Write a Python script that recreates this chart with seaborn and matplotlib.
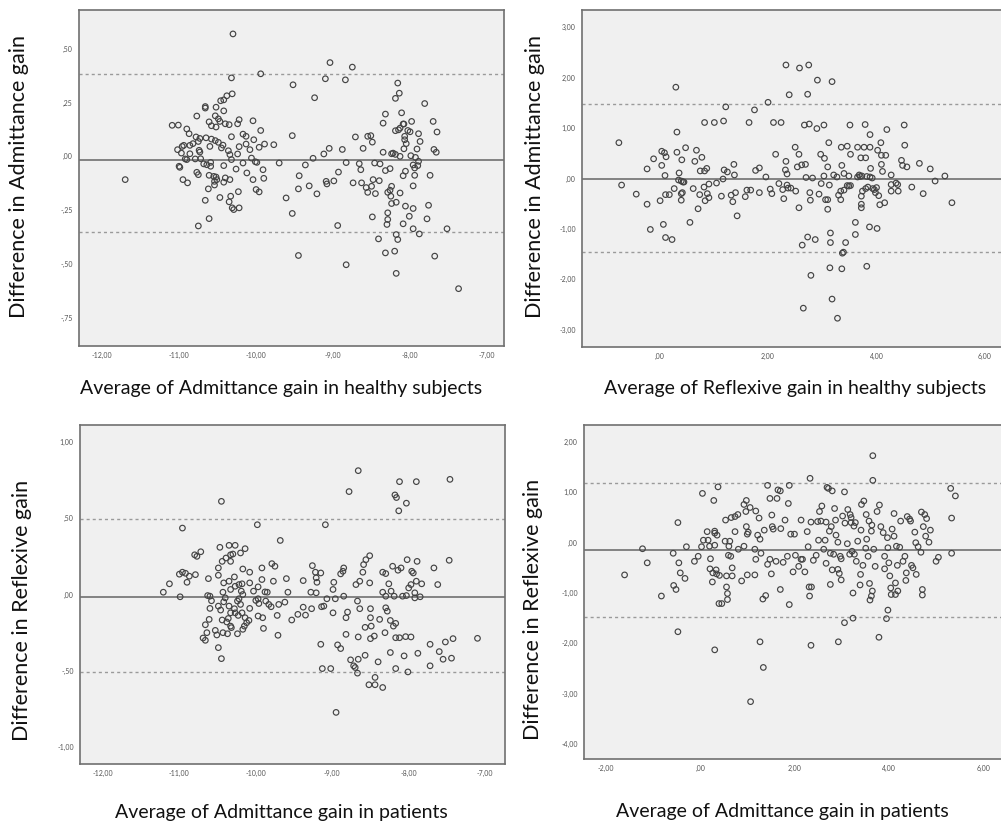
import matplotlib
matplotlib.use("Agg")
import matplotlib.pyplot as plt
import seaborn as sns

sns.set_style("white")
plt.rcParams['font.family'] = ['Lato', 'DejaVu Sans']

# ---- panel 1: admittance gain, healthy subjects ----
tl_x = [-11.70, -10.30, -9.94, -10.32, -9.04, -8.75, -9.10, -8.84, -9.52, -9.24,
        -8.16, -8.14, -8.19, -7.81, -10.31, -10.38, -10.42, -10.46, -10.66, -10.66,
        -10.52, -10.42, -10.77, -10.53, -10.49, -10.61, -10.47, -10.40, -10.35, -10.58,
        -10.52, -10.22, -10.24, -10.04, -9.94, -10.17, -10.13, -10.32, -10.03, -9.89,
        -9.77, -10.13, -10.22, -10.08, -9.96, -11.09, -11.01, -10.90, -10.87, -10.78,
        -10.73, -10.65, -10.58, -10.53, -10.49, -10.43, -10.45, -10.60, -10.75, -10.82,
        -10.86, -10.94, -10.96, -11.02, -10.97, -10.86, -10.74, -10.73, -10.36, -10.34,
        -10.24, -10.06, -10.01, -9.99, -10.92, -10.90, -10.79, -10.72, -10.68, -10.64,
        -10.59, -10.59, -11.00, -10.99, -10.77, -10.75, -10.61, -10.55, -10.52, -10.51,
        -10.54, -10.40, -10.34, -10.42, -10.32, -10.26, -10.17, -10.12, -10.04, -9.91,
        -9.90, -10.95, -10.89, -10.62, -10.54, -10.42, -10.23, -10.00, -9.96, -10.66,
        -10.47, -10.33, -10.35, -10.31, -10.29, -10.22, -10.61, -10.75, -9.61, -9.53,
        -9.70, -9.53, -9.44, -9.45, -9.36, -9.26, -9.31, -9.21, -9.12, -9.05,
        -9.09, -9.08, -8.99, -8.93, -8.88, -8.83, -8.71, -8.61, -8.74, -8.66,
        -8.64, -8.63, -8.57, -8.55, -8.55, -8.51, -8.49, -8.48, -8.50, -8.45,
        -8.46, -8.40, -8.39, -8.35, -8.35, -8.32, -8.32, -8.26, -8.24, -8.22,
        -8.19, -8.29, -8.26, -8.24, -8.25, -8.24, -8.18, -8.13, -8.29, -8.29,
        -8.30, -8.41, -8.49, -8.94, -9.45, -8.83, -8.32, -8.20, -8.18, -8.18,
        -8.16, -8.09, -8.06, -8.01, -7.96, -7.96, -7.88, -7.76, -7.78, -7.68,
        -7.52, -7.37, -7.74, -7.94, -7.96, -7.96, -7.90, -7.93, -7.91, -7.89,
        -7.99, -8.08, -8.07, -8.07, -8.05, -8.06, -8.09, -8.09, -8.08, -8.11,
        -8.15, -8.19, -8.13, -8.03, -7.98, -8.00, -7.89, -7.87, -7.70, -7.65,
        -7.69, -7.66, -8.13, -7.94]
tl_y = [-0.108, 0.568, 0.383, 0.364, 0.435, 0.414, 0.360, 0.355, 0.332, 0.272,
        0.340, 0.293, 0.269, 0.245, 0.290, 0.281, 0.262, 0.258, 0.231, 0.224,
        0.228, 0.211, 0.187, 0.188, 0.174, 0.160, 0.162, 0.151, 0.147, 0.142,
        0.136, 0.170, 0.151, 0.165, 0.120, 0.103, 0.093, 0.091, 0.077, 0.057,
        0.054, 0.057, 0.045, 0.031, 0.042, 0.144, 0.145, 0.127, 0.105, 0.090,
        0.083, 0.086, 0.080, 0.073, 0.065, 0.052, 0.039, 0.046, 0.069, 0.059,
        0.051, 0.051, 0.046, 0.031, 0.015, 0.012, 0.028, 0.020, 0.026, 0.008,
        0.011, -0.008, -0.025, -0.028, -0.012, -0.015, -0.012, -0.011, -0.035, -0.039,
        -0.028, -0.046, -0.046, -0.051, -0.074, -0.085, -0.088, -0.093, -0.096, -0.108,
        -0.116, -0.100, -0.108, -0.043, -0.015, -0.059, -0.031, -0.077, -0.108, -0.062,
        -0.102, -0.108, -0.123, -0.151, -0.133, -0.120, -0.164, -0.154, -0.165, -0.204,
        -0.191, -0.185, -0.211, -0.239, -0.247, -0.239, -0.289, -0.323, -0.193, -0.265,
        -0.031, 0.096, -0.090, -0.151, -0.040, -0.009, -0.137, -0.174, 0.011, 0.037,
        -0.116, -0.128, -0.114, -0.073, 0.032, -0.029, 0.090, 0.037, -0.123, -0.034,
        -0.062, -0.123, -0.145, -0.167, 0.093, 0.096, 0.066, -0.108, -0.139, -0.173,
        -0.031, -0.113, -0.035, 0.019, 0.154, 0.196, -0.066, -0.057, 0.012, 0.015,
        0.009, -0.167, -0.157, -0.139, -0.185, -0.219, -0.213, -0.170, -0.262, -0.293,
        -0.316, -0.383, -0.281, -0.321, -0.460, -0.503, -0.448, -0.440, -0.543, -0.363,
        -0.386, -0.313, -0.231, -0.278, -0.242, -0.336, -0.360, -0.227, -0.290, -0.463,
        -0.336, -0.614, -0.088, -0.088, -0.137, -0.040, -0.043, -0.005, 0.034, -0.023,
        0.003, 0.035, 0.093, 0.077, 0.059, -0.069, -0.090, 0.150, 0.150, 0.202,
        0.123, 0.119, 0.131, 0.120, 0.162, 0.114, 0.105, 0.069, 0.162, 0.113,
        0.032, 0.019, 0.000, -0.054]

# ---- panel 2: reflexive gain, healthy subjects ----
tr_x = [-0.75, -0.70, -0.43, -0.23, -0.23, -0.17, -0.11, 0.01, 0.04, 0.04,
        0.07, 0.09, 0.12, 0.10, 0.11, 0.11, 0.18, 0.23, 0.27, 0.30,
        0.32, 0.32, 0.35, 0.36, 0.40, 0.41, 0.40, 0.43, 0.45, 0.42,
        0.40, 0.48, 0.56, 0.62, 0.65, 0.68, 0.71, 0.75, 0.74, 0.78,
        0.83, 0.83, 0.82, 0.84, 0.87, 0.88, 0.91, 0.91, 1.01, 1.05,
        1.14, 1.18, 1.17, 1.19, 1.22, 1.25, 1.32, 1.35, 1.37, 1.38,
        1.40, 1.43, 1.58, 1.61, 1.65, 1.68, 1.75, 1.77, 1.84, 1.84,
        1.96, 2.00, 2.04, 2.07, 2.10, 2.14, 2.24, 2.20, 2.27, 2.29,
        2.32, 2.33, 2.33, 2.35, 2.35, 2.37, 2.39, 2.42, 2.51, 2.50,
        2.54, 2.57, 2.58, 2.57, 2.62, 2.63, 2.65, 2.67, 2.69, 2.70,
        2.73, 2.75, 2.76, 2.73, 2.77, 2.78, 2.79, 2.82, 2.87, 2.90,
        2.91, 2.94, 2.97, 2.98, 3.03, 3.04, 3.03, 3.06, 3.10, 3.10,
        3.10, 3.12, 3.13, 3.15, 3.14, 3.15, 3.18, 3.18, 3.21, 3.27,
        3.28, 3.30, 3.34, 3.34, 3.35, 3.36, 3.36, 3.37, 3.39, 3.40,
        3.43, 3.46, 3.49, 3.51, 3.52, 3.52, 3.61, 3.61, 3.65, 3.68,
        3.71, 3.72, 3.72, 3.74, 3.77, 3.79, 3.80, 3.82, 3.84, 3.87,
        3.88, 3.88, 3.89, 3.93, 3.98, 4.01, 4.02, 4.04, 4.06, 4.08,
        4.09, 4.09, 4.11, 4.17, 4.15, 4.19, 4.27, 4.27, 4.27, 4.36,
        4.39, 4.40, 4.46, 4.48, 4.51, 4.52, 4.56, 4.65, 4.79, 4.86,
        4.99, 5.08, 5.26, 5.39, 3.65, 3.70, 3.73, 3.82, 3.88, 3.92,
        3.46, 3.49, 3.80, 3.96, 4.00, 3.40, 3.72]
tr_y = [0.71, -0.13, -0.31, -0.51, 0.19, -1.01, 0.39, -0.44, 0.26, 0.54,
        -0.91, 0.51, 0.43, 0.06, -0.32, -1.17, -0.32, -1.21, -0.20, 1.81,
        0.52, 0.92, -0.03, 0.11, -0.30, 0.37, -0.05, -0.07, -0.07, -0.28,
        -0.43, 0.61, -0.87, -0.20, 0.34, 0.56, -0.60, 0.15, -0.32, 0.42,
        1.11, 0.15, -0.17, -0.44, 0.20, -0.30, -0.38, -0.11, 1.11, -0.09,
        -0.35, 1.14, -0.01, 0.17, 1.42, 0.13, -0.33, -0.46, 0.28, 0.07,
        -0.28, -0.74, -0.36, -0.23, 1.11, -0.23, 1.36, 0.16, 0.21, -0.28,
        0.03, 1.51, -0.21, -0.30, 1.11, 0.48, 1.11, -0.10, -0.22, -0.40,
        0.17, 2.25, 0.34, 0.09, -0.13, -0.19, 1.66, -0.19, -0.25, 0.62,
        0.23, 0.48, 2.19, -0.58, 0.27, -1.32, -2.57, 1.06, 0.28, 0.02,
        1.67, 2.25, 1.08, -1.16, -0.28, -0.43, -1.92, 0.01, -1.21, 0.99,
        1.95, -0.31, 0.48, -0.10, 1.06, 0.40, 0.05, -0.42, -0.42, -0.61,
        0.23, 0.71, -0.13, -1.08, -1.77, -1.27, 1.92, -2.39, 0.07, 0.03,
        -2.77, -0.33, -0.42, -0.25, 0.62, 0.26, -1.79, -1.48, -1.46, 0.10,
        -1.27, 0.64, 0.05, 1.06, -0.14, 0.48, -0.87, -1.11, 0.62, 0.07,
        0.41, -0.35, -0.58, -0.25, 0.62, 1.07, 0.41, -1.74, -0.17, -0.96,
        0.87, 0.62, 0.20, -0.20, -0.28, -0.99, 0.56, -0.34, -0.52, 0.71,
        0.46, 0.28, 0.14, 0.46, -0.48, 0.97, 0.07, -0.12, -0.25, -0.09,
        -0.12, -0.25, 0.36, 0.26, 1.06, 0.66, 0.23, -0.17, 0.30, -0.30,
        0.19, -0.05, 0.05, -0.48, 0.03, 0.04, 0.05, 0.04, 0.03, 0.01,
        -0.14, -0.15, -0.20, -0.22, -0.18, -0.23, -0.51]

# ---- panel 3: admittance gain, patients (reflexive difference) ----
bl_x = [-11.21, -11.13, -10.99, -10.96, -11.00, -10.96, -10.92, -10.90, -10.87, -10.79,
        -10.80, -10.77, -10.72, -10.62, -10.63, -10.60, -10.58, -10.60, -10.61, -10.66,
        -10.64, -10.69, -10.66, -10.53, -10.51, -10.49, -10.45, -10.45, -10.47, -10.49,
        -10.49, -10.44, -10.39, -10.35, -10.27, -10.33, -10.30, -10.33, -10.20, -10.14,
        -10.17, -10.08, -10.28, -10.35, -10.42, -10.43, -10.33, -10.27, -10.22, -10.18,
        -10.19, -10.17, -10.08, -10.03, -9.97, -9.92, -9.92, -9.88, -9.85, -9.79,
        -9.77, -9.75, -9.68, -9.60, -9.58, -9.98, -10.49, -10.46, -10.42, -10.40,
        -10.35, -10.33, -10.44, -10.38, -10.36, -10.33, -10.37, -10.43, -10.32, -10.24,
        -10.22, -10.20, -10.28, -10.27, -10.23, -10.18, -10.14, -10.12, -10.09, -10.24,
        -10.17, -10.15, -10.08, -10.00, -9.97, -9.96, -9.97, -9.91, -9.87, -9.83,
        -9.80, -9.90, -9.72, -9.70, -9.71, -9.62, -9.53, -9.45, -9.38, -9.35,
        -9.38, -9.28, -9.26, -9.22, -9.21, -9.20, -9.21, -9.27, -9.15, -9.14,
        -9.11, -9.15, -9.13, -9.02, -9.09, -9.07, -8.99, -8.98, -8.99, -8.96,
        -8.95, -8.93, -8.89, -8.89, -8.86, -8.85, -8.85, -8.82, -8.80, -8.82,
        -8.78, -8.76, -8.72, -8.70, -8.69, -8.67, -8.66, -8.67, -8.66, -8.66,
        -8.64, -8.64, -8.60, -8.59, -8.57, -8.57, -8.56, -8.51, -8.51, -8.50,
        -8.50, -8.50, -8.49, -8.52, -8.44, -8.45, -8.44, -8.40, -8.38, -8.34,
        -8.34, -8.34, -8.31, -8.30, -8.30, -8.28, -8.30, -8.26, -8.24, -8.24,
        -8.23, -8.21, -8.20, -8.19, -8.18, -8.17, -8.17, -8.17, -8.16, -8.14,
        -8.12, -8.13, -8.12, -8.10, -8.08, -8.06, -8.04, -8.03, -8.03, -8.02,
        -8.01, -8.00, -7.97, -7.97, -7.96, -7.94, -7.92, -7.92, -7.90, -7.90,
        -7.89, -7.88, -7.85, -7.83, -7.72, -7.72, -7.67, -7.62, -7.60, -7.55,
        -7.52, -7.47, -7.46, -7.44, -7.42, -7.10]
bl_y = [0.015, 0.070, -0.015, 0.435, 0.133, 0.146, 0.139, 0.080, 0.120, 0.130,
        0.260, 0.250, 0.280, 0.104, -0.007, -0.011, -0.041, -0.091, -0.163, -0.198,
        -0.250, -0.285, -0.300, -0.235, -0.265, -0.348, -0.420, 0.610, 0.309, 0.174,
        0.126, 0.217, 0.239, 0.322, 0.322, 0.260, 0.265, 0.217, 0.272, 0.300,
        0.167, 0.146, 0.115, 0.087, 0.076, 0.015, 0.033, 0.054, 0.065, 0.070,
        0.022, 0.000, 0.076, 0.022, 0.050, 0.174, 0.098, 0.017, 0.015, 0.202,
        0.087, 0.185, 0.354, 0.104, 0.015, 0.457, -0.076, -0.102, -0.048, -0.022,
        -0.076, -0.120, -0.167, -0.180, -0.157, -0.207, -0.257, -0.250, -0.217, -0.043,
        -0.028, -0.065, -0.093, -0.120, -0.137, -0.120, -0.152, -0.185, -0.170, -0.257,
        -0.228, -0.207, -0.091, -0.039, -0.028, -0.059, -0.141, -0.152, -0.043, -0.065,
        -0.080, -0.222, -0.137, -0.065, -0.267, -0.050, -0.167, -0.130, -0.083, -0.135,
        0.091, 0.015, 0.189, 0.146, 0.109, 0.080, 0.011, -0.093, 0.141, -0.080,
        -0.076, -0.326, -0.485, -0.485, 0.457, -0.028, 0.033, 0.080, -0.120, -0.028,
        -0.772, -0.330, -0.354, 0.135, 0.152, 0.174, -0.011, -0.152, -0.115, -0.261,
        0.674, -0.428, -0.467, -0.478, 0.065, -0.515, -0.424, -0.043, 0.811, -0.278,
        -0.093, 0.087, 0.146, 0.196, -0.215, -0.398, 0.228, 0.254, 0.076, -0.093,
        -0.152, -0.289, -0.207, -0.591, -0.591, -0.272, -0.543, -0.441, -0.163, -0.609,
        0.146, 0.015, -0.250, 0.137, -0.087, -0.109, -0.011, 0.070, -0.170, -0.380,
        0.022, 0.185, -0.207, -0.011, 0.652, -0.485, -0.189, -0.283, 0.635, 0.159,
        0.739, 0.548, -0.283, 0.174, -0.011, -0.402, -0.276, 0.598, -0.007, 0.228,
        -0.507, 0.043, -0.278, 0.065, 0.152, 0.141, 0.011, -0.022, 0.087, 0.739,
        0.217, -0.385, -0.015, 0.070, -0.467, -0.326, 0.174, 0.065, -0.374, -0.424,
        -0.311, 0.224, 0.754, -0.417, -0.289, -0.287]

# ---- panel 4: admittance gain, patients (second set) ----
br_x = [-1.61, -1.23, -1.13, -0.83, -0.58, -0.57, -0.52, -0.48, -0.48, -0.46,
        -0.43, -0.33, -0.30, -0.13, -0.05, 0.04, 0.02, 0.06, 0.14, 0.16,
        0.19, 0.21, 0.20, 0.25, 0.26, 0.28, 0.30, 0.30, 0.30, 0.30,
        0.33, 0.34, 0.35, 0.37, 0.39, 0.40, 0.45, 0.52, 0.53, 0.55,
        0.55, 0.57, 0.57, 0.59, 0.60, 0.62, 0.64, 0.65, 0.67, 0.67,
        0.73, 0.73, 0.79, 0.80, 0.87, 0.92, 0.92, 0.96, 0.97, 0.97,
        0.99, 0.99, 1.01, 1.05, 1.06, 1.15, 1.17, 1.15, 1.17, 1.21,
        1.24, 1.26, 1.28, 1.26, 1.32, 1.33, 1.35, 1.38, 1.42, 1.42,
        1.47, 1.47, 1.50, 1.51, 1.52, 1.54, 1.60, 1.62, 1.64, 1.69,
        1.69, 1.70, 1.75, 1.79, 1.84, 1.86, 1.88, 1.88, 1.91, 1.96,
        1.99, 2.01, 2.08, 2.13, 2.13, 2.16, 2.21, 2.26, 2.28, 2.30,
        2.31, 2.32, 2.34, 2.35, 2.34, 2.39, 2.45, 2.48, 2.50, 2.52,
        2.55, 2.57, 2.61, 2.64, 2.66, 2.66, 2.68, 2.71, 2.73, 2.75,
        2.75, 2.77, 2.79, 2.79, 2.82, 2.84, 2.86, 2.87, 2.91, 2.91,
        2.92, 2.94, 2.96, 2.98, 2.98, 3.01, 3.05, 3.05, 3.06, 3.11,
        3.12, 3.16, 3.17, 3.19, 3.19, 3.21, 3.23, 3.23, 3.25, 3.26,
        3.28, 3.30, 3.33, 3.38, 3.39, 3.40, 3.41, 3.46, 3.44, 3.50,
        3.52, 3.51, 3.55, 3.57, 3.58, 3.59, 3.62, 3.64, 3.65, 3.65,
        3.62, 3.63, 3.67, 3.70, 3.74, 3.78, 3.79, 3.82, 3.87, 3.90,
        3.90, 3.94, 3.96, 3.97, 3.97, 3.99, 4.01, 4.03, 4.04, 4.06,
        4.10, 4.10, 4.13, 4.13, 4.15, 4.17, 4.18, 4.22, 4.24, 4.29,
        4.33, 4.35, 4.36, 4.38, 4.43, 4.45, 4.47, 4.50, 4.54, 4.56,
        4.57, 4.61, 4.67, 4.68, 4.70, 4.70, 4.72, 4.75, 4.77, 4.79,
        4.84, 4.87, 4.99, 5.04, 5.30, 5.32, 5.32, 5.40]
br_y = [-0.64, -0.12, -0.40, -1.06, -0.21, -0.85, -0.93, -1.77, 0.40, -0.40,
        -0.60, -0.71, -0.08, -0.37, -0.27, 0.98, -0.08, 0.05, 0.22, 0.05,
        -0.07, -0.32, -0.52, -0.78, -0.60, 0.84, 0.23, 0.19, -0.05, -2.13,
        -0.54, -0.62, 0.15, 1.11, -1.21, -0.65, -1.21, 0.03, 0.45, -0.88,
        -0.66, -1.13, -1.01, -0.25, -0.07, 0.03, -0.27, 0.50, -0.66, -0.50,
        0.52, 0.22, 0.56, -0.13, -0.76, 0.76, -0.07, 0.62, 0.84, 0.32,
        0.17, -0.64, 0.21, 0.70, -3.16, -0.64, 0.63, -0.13, -0.33, 0.15,
        0.49, 0.07, -0.21, -1.97, -1.12, -2.48, 0.25, -1.05, 1.14, -0.43,
        -0.33, 0.88, -0.62, 0.55, 0.32, 0.27, -0.37, 0.88, 1.05, 1.03,
        -0.93, 0.28, -0.39, 0.45, -0.27, 0.78, 1.14, -1.23, 0.17, -0.58,
        0.17, -0.25, -0.47, 0.45, -0.33, -0.33, -0.58, 0.22, -0.08, -0.88,
        -1.06, 1.28, 0.41, -0.88, -2.04, -0.35, -0.25, 0.42, 0.05, 0.62,
        0.43, 0.73, -0.13, 0.05, 0.41, -0.41, 1.10, 1.08, 0.23, -0.21,
        -0.83, 0.32, 1.03, -0.54, -0.23, 0.68, 0.45, 0.15, 0.01, -0.53,
        -1.97, -0.61, -0.27, -0.74, -0.32, 0.53, 1.01, -1.59, 0.39, -0.02,
        0.66, -0.23, 0.56, 0.50, 0.40, -0.17, -1.00, -1.50, 0.33, -0.23,
        0.40, -0.37, 0.03, -0.84, -0.63, 0.25, 0.76, 0.83, -0.45, -0.11,
        0.07, 0.56, -0.27, 0.43, -0.81, -1.14, -1.06, -0.96, 1.73, 1.24,
        0.23, 0.35, -0.13, -0.47, 0.62, -1.88, 0.75, 0.32, 0.20, -0.27,
        -0.52, -1.51, 0.10, -0.10, -1.34, -0.40, -0.66, -0.90, -1.03, 0.27,
        0.58, 0.13, -0.80, -1.03, -0.07, -0.45, -0.96, -0.09, 0.43, -0.37,
        -0.27, -0.75, -0.60, 0.52, 0.47, 0.43, -0.45, -0.50, 0.21, 0.00,
        -0.63, -0.08, -0.19, 0.61, -0.93, -1.04, 0.32, 0.56, 0.13, 0.48,
        0.01, 0.25, -0.37, -0.29, 1.08, 0.49, -0.21, 0.93]

# mean difference and limits of agreement
means = [-0.015, 0.0, -0.015, -0.15]
upper = [0.383, 1.47, 0.495, 1.19]
lower = [-0.350, -1.46, -0.505, -1.48]

xlabels = ["Average of Admittance gain in healthy subjects",
           "Average of Reflexive gain in healthy subjects",
           "Average of Admittance gain in patients",
           "Average of Admittance gain in patients"]
ylabels = ["Difference in Admittance gain", "Difference in Admittance gain",
           "Difference in Reflexive gain", "Difference in Reflexive gain"]

xticks = [[-12, -11, -10, -9, -8, -7], [0, 2, 4, 6],
          [-12, -11, -10, -9, -8, -7], [-2, 0, 2, 4, 6]]
yticks = [[0.5, 0.25, 0, -0.25, -0.5, -0.75], [3, 2, 1, 0, -1, -2, -3],
          [1, 0.5, 0, -0.5, -1], [2, 1, 0, -1, -2, -3, -4]]


def spss(v):
    s = f"{v:.2f}".replace('.', ',')
    if s.startswith('0,'):
        s = s[1:]
    elif s.startswith('-0,'):
        s = '-' + s[2:]
    return s


W, H = 1001, 821
fig = plt.figure(figsize=(W / 100, H / 100), dpi=100)

# pixel boxes: left, right, top, bottom
boxes = [(79, 504, 10, 346), (582, 1004, 10, 347),
         (80, 505, 425, 764), (584, 1004, 425, 759)]
xlims = [(-12.30, -6.78), (-1.43, 6.35), (-12.30, -6.74), (-2.47, 6.43)]
ylims = [(-0.88, 0.679), (-3.34, 3.34), (-1.11, 1.11), (-4.30, 2.34)]
data = [(tl_x, tl_y), (tr_x, tr_y), (bl_x, bl_y), (br_x, br_y)]
ylab_pos = [(19, 176), (535, 177), (22, 610), (533, 609)]
xlab_pos = [(281, 388), (795, 388), (281, 812), (782, 811)]

for i in range(4):
    l, r, t, b = boxes[i]
    ax = fig.add_axes([l / W, 1 - b / H, (r - l) / W, (b - t) / H])
    ax.set_facecolor('#f0f0f0')
    x, y = data[i]
    sns.scatterplot(x=x, y=y, ax=ax, s=16, color='#444444',
                    facecolors='none', edgecolor='#444444', linewidth=0.85,
                    zorder=3)
    ax.axhline(means[i], color='#7a7a7a', lw=1.3, zorder=2)
    for v in (upper[i], lower[i]):
        ax.axhline(v, color='#9a9a9a', lw=1.0, ls=(0, (2.2, 2.2)), zorder=2)
    ax.set_xlim(*xlims[i])
    ax.set_ylim(*ylims[i])
    ax.set_xticks(xticks[i])
    ax.set_xticklabels([spss(v) for v in xticks[i]])
    ax.set_yticks(yticks[i])
    ax.set_yticklabels([spss(v) for v in yticks[i]])
    ax.tick_params(axis='both', direction='out', length=3, width=0.9,
                   color='#555555', labelsize=5, labelcolor='#555555', pad=1.5)
    for sp in ax.spines.values():
        sp.set_color('#707070')
        sp.set_linewidth(1.2)
    ax.set_xlabel('')
    ax.set_ylabel('')
    fig.text(ylab_pos[i][0] / W, 1 - ylab_pos[i][1] / H, ylabels[i],
             rotation=90, ha='center', va='center', fontsize=15.5, color='#111111')
    fig.text(xlab_pos[i][0] / W, 1 - xlab_pos[i][1] / H, xlabels[i],
             ha='center', va='center', fontsize=14, color='#111111')

fig.savefig('out.png', dpi=100)
